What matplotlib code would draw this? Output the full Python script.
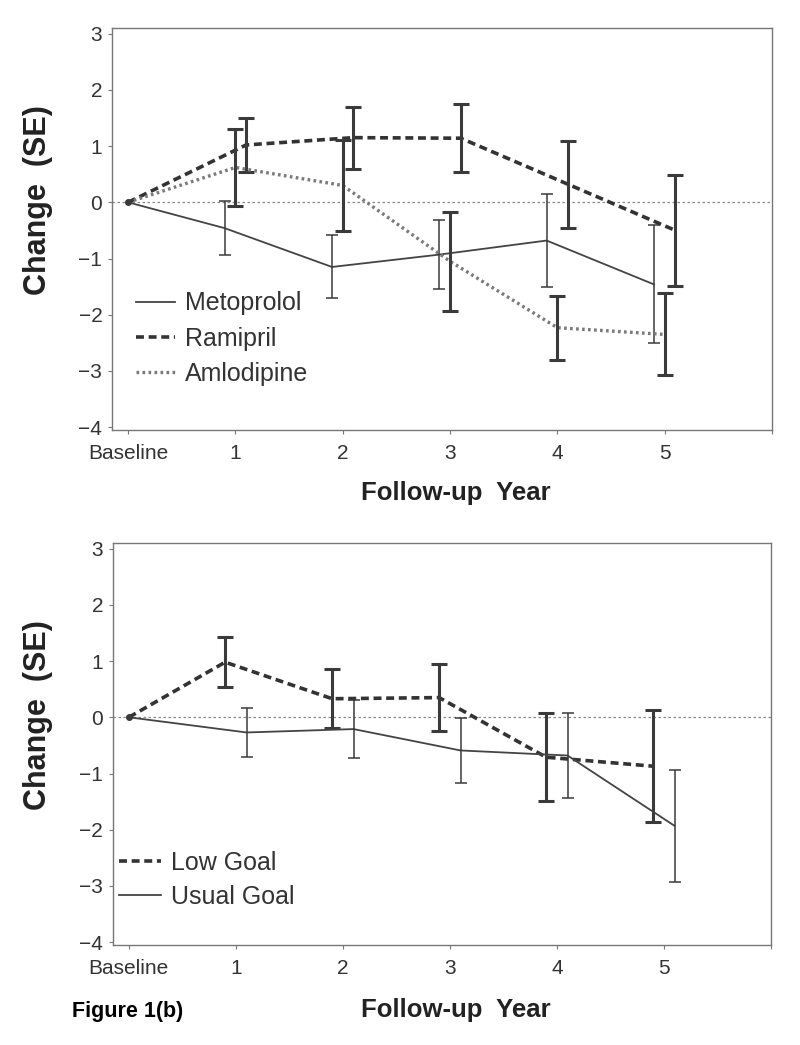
import numpy as np
import matplotlib.pyplot as plt

plt.rcParams['font.family'] = ['Liberation Sans', 'DejaVu Sans']

years = [0, 1, 2, 3, 4, 5]
tick_labels = ['Baseline', '1', '2', '3', '4', '5', '']

# panel (a): drug groups
metoprolol_mean = [0, -0.46, -1.15, -0.93, -0.68, -1.46]
metoprolol_se = [0, 0.48, 0.56, 0.62, 0.83, 1.05]
ramipril_mean = [0, 1.02, 1.15, 1.14, 0.32, -0.50]
ramipril_se = [0, 0.48, 0.55, 0.60, 0.77, 0.99]
amlodipine_mean = [0, 0.62, 0.30, -1.05, -2.23, -2.35]
amlodipine_se = [0, 0.69, 0.81, 0.88, 0.57, 0.73]

# panel (b): BP goal groups
low_mean = [0, 0.98, 0.33, 0.35, -0.71, -0.87]
low_se = [0, 0.44, 0.52, 0.60, 0.78, 1.00]
usual_mean = [0, -0.27, -0.21, -0.59, -0.68, -1.93]
usual_se = [0, 0.44, 0.52, 0.57, 0.76, 1.00]

DARK = '#3a3a3a'


def shifted(off):
    x = np.array(years, dtype=float)
    x[1:] += off
    return x


def series(ax, off, mean, se, label, ls, lw, color, bar_lw, cap):
    x = shifted(off)
    ax.plot(x, mean, linestyle=ls, lw=lw, color=color, label=label)
    ax.errorbar(x[1:], mean[1:], yerr=se[1:], fmt='none', ecolor=DARK,
                elinewidth=bar_lw, capsize=cap, capthick=bar_lw)


def style_axes(ax):
    ax.set_xlim(-0.15, 6.0)
    ax.set_ylim(-4.05, 3.1)
    ax.set_xticks(range(7))
    ax.set_xticklabels(tick_labels)
    ax.set_yticks(range(-4, 4))
    ax.tick_params(length=3, width=0.8, color='#777', labelsize=15,
                   labelcolor='#333', pad=7)
    ax.tick_params(axis='y', pad=4)
    for s in ax.spines.values():
        s.set_color('#777')
        s.set_linewidth(1.0)
    ax.axhline(0, color='#888', lw=0.9, linestyle=(0, (2, 2)), zorder=0)
    ax.plot([0], [0], 'o', ms=4, color=DARK)


fig = plt.figure(figsize=(8, 10.45), dpi=100)

ax1 = fig.add_axes([0.14, 0.5885, 0.825, 0.3847])
series(ax1, -0.1, metoprolol_mean, metoprolol_se, 'Metoprolol', '-', 1.3, '#444', 1.1, 4)
series(ax1, 0.1, ramipril_mean, ramipril_se, 'Ramipril', (0, (2.2, 1.3)), 2.6, '#333', 2.2, 5.5)
series(ax1, 0.0, amlodipine_mean, amlodipine_se, 'Amlodipine', (0, (0.8, 1.0)), 2.4, '#7a7a7a', 2.2, 5.5)
style_axes(ax1)
ax1.legend(loc='upper left', bbox_to_anchor=(0.037, 0.345), frameon=False,
           fontsize=18, handlelength=1.55, handletextpad=0.4,
           labelspacing=0.45, borderpad=0, borderaxespad=0, labelcolor='#333')

ax2 = fig.add_axes([0.141, 0.0957, 0.8225, 0.3847])
series(ax2, -0.1, low_mean, low_se, 'Low Goal', (0, (2.2, 1.3)), 2.6, '#333', 2.2, 5.5)
series(ax2, 0.1, usual_mean, usual_se, 'Usual Goal', '-', 1.3, '#444', 1.1, 4)
style_axes(ax2)
ax2.legend(loc='upper left', bbox_to_anchor=(0.01, 0.235), frameon=False,
           fontsize=18, handlelength=1.65, handletextpad=0.4,
           labelspacing=0.42, borderpad=0, borderaxespad=0, labelcolor='#333')

for yc in (200 / 1045, 715 / 1045):
    fig.text(0.048, 1 - yc, 'Change  (SE)', rotation=90, ha='center', va='center',
             fontsize=22, fontweight='bold', color='#222')
for yc in (493 / 1045, 1010 / 1045):
    fig.text(456 / 800, 1 - yc, 'Follow-up  Year', ha='center', va='center',
             fontsize=18.5, fontweight='bold', color='#222')
fig.text(72 / 800, 1 - 1012 / 1045, 'Figure 1(b)', ha='left', va='center',
         fontsize=15.5, fontweight='bold', color='#000')

fig.savefig('out.png', dpi=100)
